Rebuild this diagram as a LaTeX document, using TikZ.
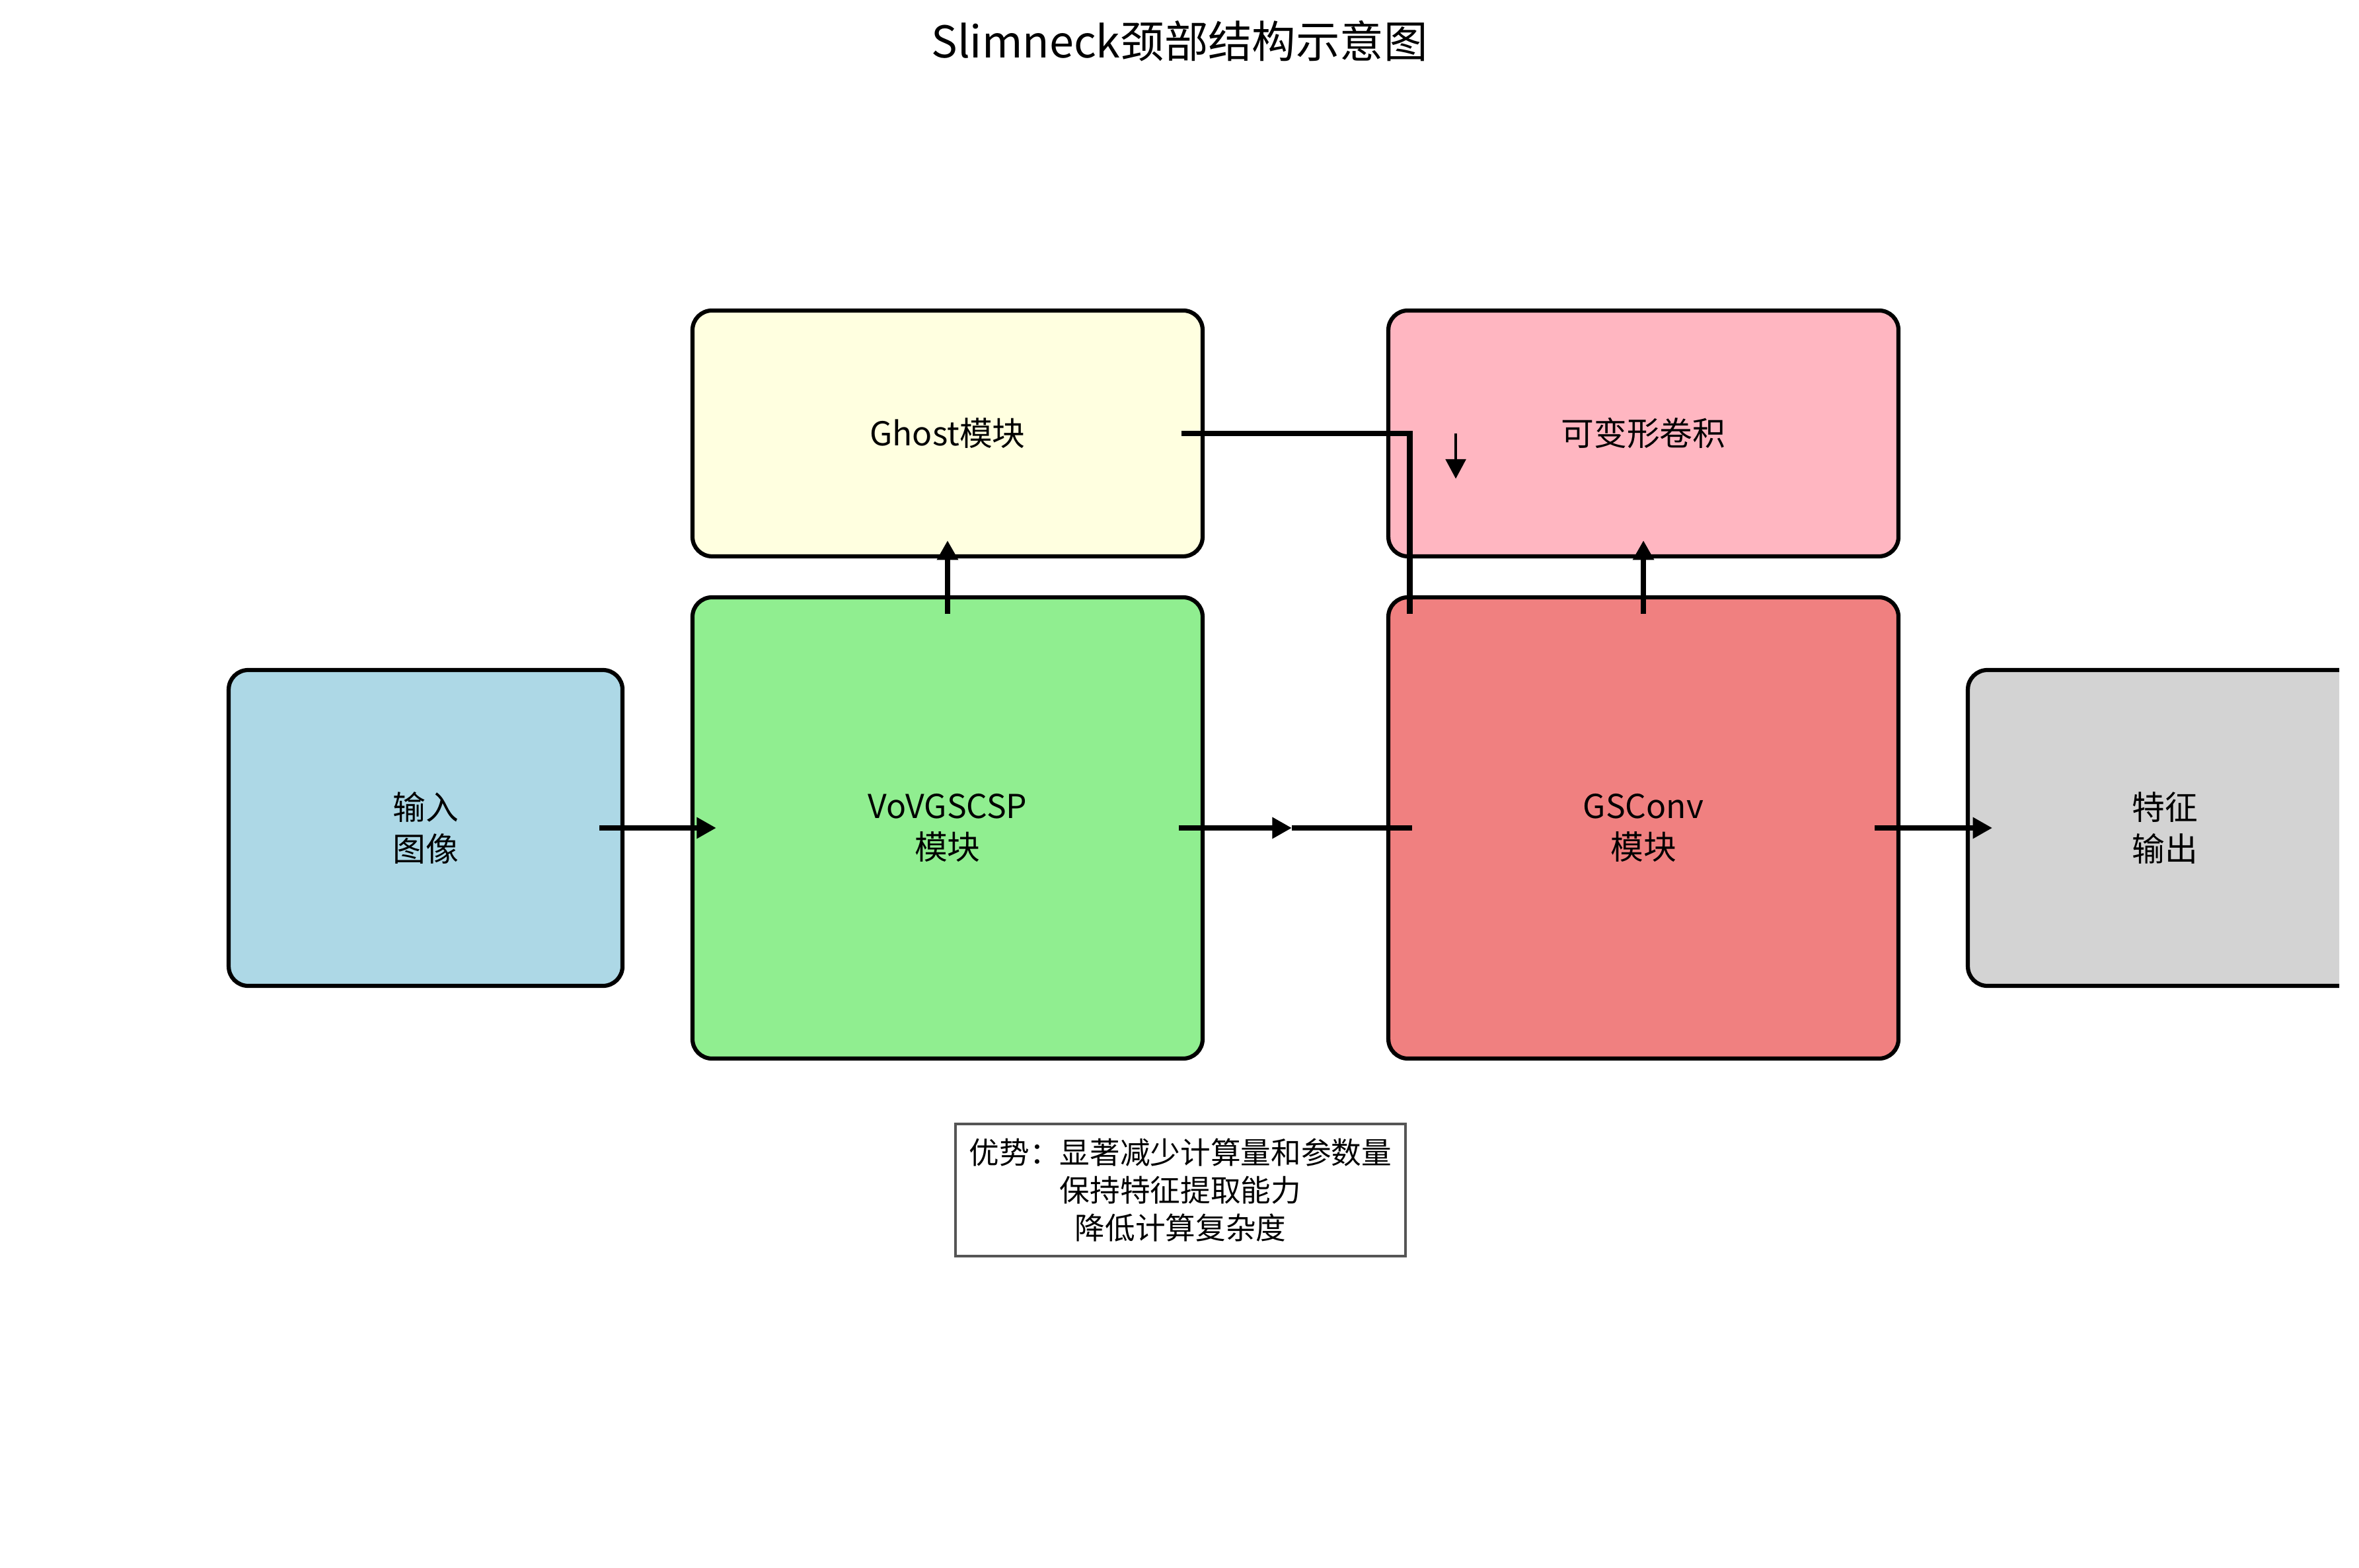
\documentclass[tikz,border=0pt]{standalone}
\usepackage{fontspec}
\setmainfont{Noto Sans CJK SC}
\usetikzlibrary{arrows.meta}

\definecolor{inblue}{HTML}{ADD8E6}
\definecolor{vovgreen}{HTML}{90EE90}
\definecolor{ghostyellow}{HTML}{FFFFE0}
\definecolor{deformpink}{HTML}{FFB6C1}
\definecolor{gsred}{HTML}{F08080}
\definecolor{outgray}{HTML}{D3D3D3}
\definecolor{notegray}{HTML}{555555}

\begin{document}
\begin{tikzpicture}[>={Triangle[length=2.5mm,width=2.6mm]},
  block/.style={draw, line width=1.5pt, rounded corners=2.5mm, inner sep=0pt,
    align=center, font=\fontsize{12}{15}\selectfont},
  small/.style={block, minimum width=5.046cm, minimum height=4.047cm},
  big/.style={block, minimum width=6.536cm, minimum height=5.91cm},
  top/.style={block, minimum width=6.536cm, minimum height=3.15cm},
  link/.style={line width=2pt}]
\useasboundingbox (0,0) rectangle (30.226,20.083);
\node (title) at (15.113,19.558) {\fontsize{16}{19}\selectfont Slimneck颈部结构示意图};
% plot area ends before the right border of the output box
\clip (0,0) rectangle (29.972,20.083);
\node[small, fill=inblue] (input) at (5.453,9.474) {输入\\图像};
\node[big, fill=vovgreen] (vov) at (12.141,9.474) {VoVGSCSP\\模块};
\node[top, fill=ghostyellow] (ghost) at (12.141,14.529) {Ghost模块};
\node[top, fill=deformpink] (deform) at (21.057,14.529) {可变形卷积};
\node[big, fill=gsred] (gsconv) at (21.057,9.474) {GSConv\\模块};
\node[small, fill=outgray] (output) at (27.737,9.474) {特征\\输出};
\node[draw=notegray, line width=1pt, fill=white, inner sep=0pt, minimum width=5.766cm,
  minimum height=1.693cm, align=center, font=\fontsize{11}{13.7}\selectfont] (note)
  at (15.126,4.834) {优势：显著减少计算量和参数量\\保持特征提取能力\\降低计算复杂度};
\coordinate (mid) at (16.552,9.474);
\draw[link, ->] ([xshift=-0.32cm]input.east) -- ([xshift=0.33cm]vov.west);
\draw[link, ->] ([xshift=-0.33cm]vov.east) -- (mid);
\draw[link] (mid) -- ([xshift=0.33cm]gsconv.west);
\draw[link, ->] ([xshift=-0.33cm]gsconv.east) -- ([xshift=0.34cm]output.west);
\draw[link, ->] ([yshift=-0.24cm]vov.north) -- ([yshift=0.23cm]ghost.south);
\draw[link, ->] ([yshift=-0.24cm]gsconv.north) -- ([yshift=0.23cm]deform.south);
\draw[link] ([xshift=-0.3cm]ghost.east) -| ([xshift=0.3cm,yshift=-0.24cm]gsconv.north west);
\draw[line width=0.8pt, ->] ([xshift=0.89cm]deform.west) -- ([xshift=0.89cm,yshift=-0.58cm]deform.west);
\end{tikzpicture}
\end{document}
